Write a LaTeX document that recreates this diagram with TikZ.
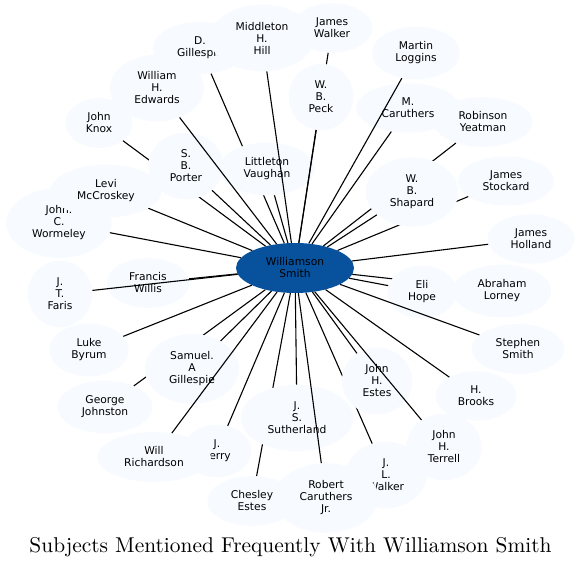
\documentclass[tikz,border=0pt]{standalone}
\usepackage{fontspec}
\newfontfamily\labelfont{DejaVu Sans}
\newfontfamily\captionfont{lmroman10-regular.otf}
\usetikzlibrary{shapes.geometric}
\definecolor{hubblue}{HTML}{08519C}
\definecolor{leafblue}{HTML}{F7FBFF}
\tikzset{
  every picture/.style={x=1pt, y=-1pt},
  hub/.style={ellipse, fill=hubblue, draw=none, minimum width=118pt, minimum height=50pt, align=center, font=\labelfont\fontsize{10.7}{12}\selectfont},
  leaf/.style={ellipse, fill=leafblue, draw=none, inner xsep=10.5pt, inner ysep=7.5pt, align=center, font=\labelfont\fontsize{10.7}{12}\selectfont},
  link/.style={draw=black, line width=1.1pt},
  caption/.style={font=\captionfont\fontsize{21.4}{25}\selectfont},
}

\begin{document}
\begin{tikzpicture}
  \useasboundingbox (0,0) rectangle (582,569);
  \node[hub] (smith) at (295,268) {Williamson\\Smith};
  % leaves in drawing order: a leaf hides the links drawn before it
  \foreach \nm/\x/\y/\lbl in {
    gillespie/200/48/{D.\\Gillespie}, vaughan/267/169/{Littleton\\Vaughan},
    hill/262/38/{Middleton\\H.\\Hill}, jwalker/332/28/{James\\Walker},
    peck/321/97/{W.\\B.\\Peck}, mcaruthers/408/108/{M.\\Caruthers},
    loggins/416/53/{Martin\\Loggins}, yeatman/483/122/{Robinson\\Yeatman},
    stockard/506/181/{James\\Stockard}, shapard/412/192/{W.\\B.\\Shapard},
    holland/531/239/{James\\Holland}, lorney/502/291/{Abraham\\Lorney},
    hope/422/292/{Eli\\Hope}, ssmith/518/349/{Stephen\\Smith},
    brooks/476/396/{H.\\Brooks}, jlwalker/386/475/{J.\\L.\\Walker},
    estes/377/381/{John\\H.\\Estes}, terrell/444/447/{John\\H.\\Terrell},
    chesley/252/501/{Chesley\\Estes}, sutherland/297/418/{J.\\S.\\Sutherland},
    rcaruthers/326/498/{Robert\\Caruthers\\Jr.}, perry/217/451/{J.\\Perry},
    johnston/105/407/{George\\Johnston}, sgillespie/192/369/{Samuel.\\A\\Gillespie},
    richardson/154/457/{Will\\Richardson}, byrum/89/350/{Luke\\Byrum},
    willis/148/283/{Francis\\Willis}, faris/60/294/{J.\\T.\\Faris},
    wormeley/59/223/{John.\\C.\\Wormeley}, mccroskey/106/191/{Levi\\McCroskey},
    knox/99/123/{John\\Knox}, porter/186/166/{S.\\B.\\Porter},
    edwards/157/88/{William\\H.\\Edwards}} {
    \node[leaf] (\nm) at (\x,\y) {\lbl};
    \draw[link] (smith) -- (\nm);
  }
  \node[caption] (title) at (290.5,547) {Subjects Mentioned Frequently With Williamson Smith};
\end{tikzpicture}
\end{document}
